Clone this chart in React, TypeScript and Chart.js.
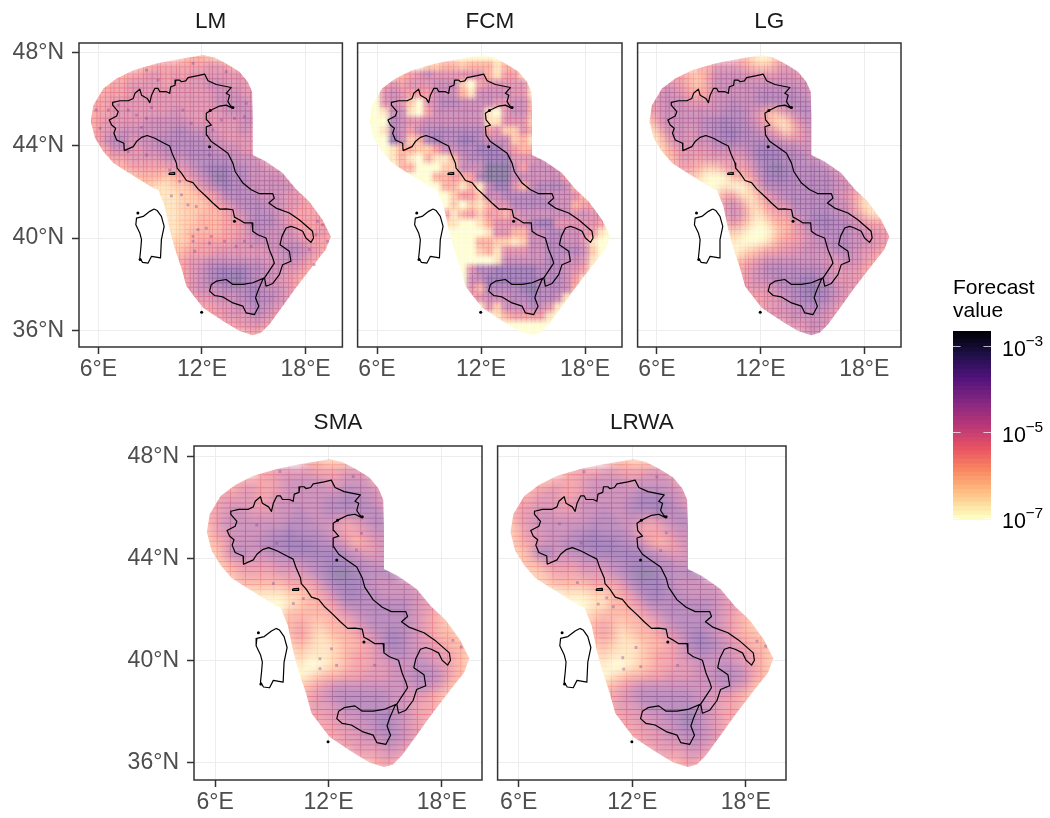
import React, { useEffect, useRef } from "react";
import { Chart, registerables } from "chart.js";

Chart.register(...registerables);

// ---------- data ----------
const xTickValues = [6, 12, 18];
const yTickValues = [36, 40, 44, 48];
const cellLons = [5.5, 6, 6.5, 7, 7.5, 8, 8.5, 9, 9.5, 10, 10.5, 11, 11.5, 12, 12.5, 13, 13.5, 14, 14.5, 15, 15.5, 16, 16.5, 17, 17.5, 18, 18.5, 19, 19.5];
const cellLats = [47.8, 47.4, 47, 46.6, 46.2, 45.8, 45.4, 45, 44.6, 44.2, 43.8, 43.4, 43, 42.6, 42.2, 41.8, 41.4, 41, 40.6, 40.2, 39.8, 39.4, 39, 38.6, 38.2, 37.8, 37.4, 37, 36.6, 36.2, 35.8];
// each character is an order-of-magnitude class: log10(value) = -7 + 0.4 * digit
const lmRows = [
  "...........23321",
  "......334444445543",
  "...3344554545555555",
  ".3344555545555665554",
  ".3444555555555566655",
  "34455555555555566665",
  "34455555556555556666",
  "34555556666655555566",
  "34556666667766655565",
  "34677566777777665555",
  ".3466556677777766655",
  "..3445555666777776665",
  "...33444445567888776655",
  ".....2333234567987766665",
  "......2211223567877666665",
  "........111223457777666554",
  "........1112223456777665544",
  "........11122333456777654444",
  ".........11223334457776544444",
  ".........11233334456766654454",
  ".........12234444556666665443",
  ".........12344455555566776543",
  "..........345566666665666543",
  "..........34567888877665543",
  "..........3456788987665543",
  "...........45666777876654",
  "...........4455666787765",
  "............444556677655",
  "..............445556654",
  "................445554",
  "..................343",
];
const fcmRows = [
  "...........00000",
  "......022332333133",
  "...0345655555531441",
  ".0454555666204555551",
  ".0565444666316666551",
  "00565205677666655663",
  "00166104666666105663",
  "00076556666666115552",
  "00176467777777452253",
  "00086237877887666231",
  ".0013322466778886433",
  "..0131031136778885556",
  "...03300022666999646665",
  ".....0003343479996666664",
  "......0003313168853677763",
  "........002442667777766653",
  "........0020213557777766344",
  "........04134244356666665655",
  ".........11001355557885555540",
  ".........00000155336677665410",
  ".........00003322126677665100",
  ".........00002315556677776200",
  "..........000001666667766510",
  "..........00577888887776540",
  "..........0066888888777641",
  "...........05377778977763",
  "...........0456667787761",
  "............015266676510",
  "..............013444410",
  "................000000",
  "..................000",
];
const lgRows = [
  "...........31002",
  "......435554322455",
  "...4432466665555655",
  ".4554324666666666665",
  ".5665434666667777766",
  "45666555667667777776",
  "35666666677765335677",
  "14666667787765311466",
  "02566567788776541356",
  "01366566788777765556",
  ".1245555666678887766",
  "..2355455555688877766",
  "...34432245457898777765",
  ".....3100033468887777765",
  "......1001002577777777665",
  "........144113567777776542",
  "........2564124557777766411",
  "........25652134467787765311",
  ".........35310133467887765443",
  ".........12100023456777766554",
  ".........01000134456677766554",
  ".........00123445566667765543",
  "..........234566666665566543",
  "..........34567777777655543",
  "..........3456677788765554",
  "...........45556778987655",
  "...........3445567888765",
  "............445566777654",
  "..............555666654",
  "................555665",
  "..................565",
];
const smaRows = [
  "...........33222",
  "......445555444554",
  "...3444456666556664",
  ".3445544566666677664",
  ".4555545666667787765",
  "34566555667667777776",
  "34666666677766545677",
  "24566667787776544566",
  "23466677888877653456",
  "22477667788888876556",
  ".2345555666778887766",
  "..2344445556789987777",
  "...23333344457888766665",
  ".....1111223457887766665",
  "......0001233457777777655",
  "........133333456777776543",
  "........2343233456777765432",
  "........23431233456787654332",
  ".........23211233457876554332",
  ".........12111234456776655432",
  ".........01001234455666765432",
  ".........00123344555667776432",
  "..........234566666666676532",
  "..........34567777776655432",
  "..........3455677777665443",
  "...........44556677876544",
  "...........3445566787654",
  "............344556677654",
  "..............445556654",
  "................444554",
  "..................343",
];
const lrwaRows = [
  "...........23222",
  "......344455444554",
  "...3344456666566664",
  ".3345544566666777664",
  ".4455545666667888765",
  "34556555667667778776",
  "24566666677766545677",
  "23556667787776444566",
  "23456677888877643456",
  "22378667788888876556",
  ".2335555666778887766",
  "..2234445556789987777",
  "...22333344457888766665",
  ".....0111223457887766665",
  "......0001133457777777655",
  "........123333456777776543",
  "........2343233456777765432",
  "........13431233456787654332",
  ".........23211233457887654332",
  ".........12111234456776655432",
  ".........01001234455666765432",
  ".........00123344555667776432",
  "..........234566666666676532",
  "..........34567777776655432",
  "..........3455677777765443",
  "...........44556677976544",
  "...........3445566787654",
  "............344556677654",
  "..............445556654",
  "................444554",
  "..................343",
];
// isolated high cells visible as small dots, [lon, lat]
const lmSpecks = [
  [10.23, 41.82], [10.81, 41.86], [11.19, 41.43], [11.67, 41.36], [12.25, 40.43], [11.77, 40.36], [11.48, 40.07], [11.48, 39.86], [12.54, 40.07],
  [12.44, 39.78], [11.58, 39.43], [14.46, 39.86], [13.98, 39.64], [13.31, 39.86], [14.85, 39.64], [18.21, 39.5], [18.5, 38.85], [18.98, 40.57],
  [19.27, 39.86], [18.69, 40.72], [18.6, 40.14], [8.21, 45.3], [7.15, 45.73], [9.08, 45.63], [9.46, 46.81], [11.48, 47.53], [13.4, 47.17],
  [8.79, 47.24], [13.88, 45.16], [13.12, 45.09], [14.56, 45.81], [7.73, 45.52], [6.58, 45.52], [5.87, 45.52], [6.1, 44.73], [8.5, 44.77],
  [8.79, 45.16], [10.71, 42.44], [12.44, 43.58], [10.13, 42.94], [8.79, 43.58], [7.73, 43.73], [11.38, 44.95], [10.9, 45.52], [12.63, 44.66], [14.46, 45.23],
];
const smaSpecks = [
  [9.08, 43.01], [10.67, 42.42], [10.14, 42.23], [11.55, 40.06], [11.55, 39.67], [12.43, 39.8], [12.16, 40.45], [14.45, 39.8],
  [13.75, 44.98], [13.48, 44.33], [19.03, 40.52], [18.59, 40.78], [8.2, 45.31], [9.26, 44.59], [13.31, 47.21], [9.43, 47.41],
];
const lrwaSpecks = [
  [9.1, 43.05], [10.65, 42.45], [10.2, 42.2], [11.5, 40.1], [11.55, 39.65], [12.45, 39.75], [12.2, 40.5], [14.4, 39.8], [13.8, 45],
  [13.5, 44.3], [19.05, 40.55], [18.6, 40.75], [8.15, 45.35], [9.3, 44.6], [13.3, 47.2], [9.45, 47.4], [11.0, 42.1],
];
// forecast domain outline, [lon, lat]
const domainOutline = [
  [12.06, 47.89], [12.73, 47.78], [13.4, 47.53], [14.17, 47.17], [14.65, 46.74], [14.9, 46.31], [14.94, 45.23], [14.94, 43.58],
  [15.71, 43.3], [16.67, 42.8], [17.44, 42.11], [18.21, 41.58], [18.98, 40.79], [19.46, 40.07], [19.17, 39.5], [18.4, 38.78],
  [17.44, 37.85], [16.67, 37.06], [15.9, 36.27], [15.42, 35.91], [14.94, 35.81], [14.17, 35.99], [13.21, 36.42], [12.06, 36.99],
  [11.1, 37.92], [10.81, 38.71], [10.42, 39.57], [10.13, 40.36], [9.85, 41.36], [9.46, 42.08], [9.27, 42.11], [8.4, 42.51],
  [7.63, 42.87], [6.87, 43.23], [6.29, 43.73], [5.81, 44.3], [5.56, 45.02], [5.71, 45.73], [6.29, 46.45], [7.06, 46.88],
  [8.02, 47.24], [9.37, 47.53], [10.52, 47.7], [11.67, 47.84], [12.06, 47.89],
];
const mainland = [
  [7.5, 43.77], [8.02, 43.94], [8.21, 44.16], [8.5, 44.34], [8.83, 44.42], [9.27, 44.3], [9.75, 44.11], [10.13, 43.97], [10.27, 43.66],
  [10.52, 43.23], [10.56, 43.01], [10.81, 42.8], [11.1, 42.48], [11.48, 42.39], [11.77, 42.12], [12.25, 41.79], [12.63, 41.51], [13.02, 41.25],
  [13.4, 41.26], [13.79, 41.22], [13.88, 40.9], [14.17, 40.79], [14.46, 40.65], [14.9, 40.65], [14.94, 40.29], [15.23, 40.14], [15.71, 40],
  [15.9, 39.5], [16.1, 39.14], [16.19, 38.92], [15.94, 38.64], [15.62, 38.28], [15.71, 37.92], [16.1, 38.04], [16.48, 38.42], [16.67, 38.85],
  [17.15, 39], [17.06, 39.43], [16.52, 39.71], [16.63, 40.07], [16.87, 40.43], [17.15, 40.5], [17.44, 40.43], [17.83, 40.29], [18.02, 40],
  [18.31, 39.81], [18.46, 40], [18.4, 40.29], [17.63, 40.79], [17.06, 41.08], [16.29, 41.29], [15.87, 41.51], [16.19, 41.72], [16.1, 41.91],
  [15.33, 41.91], [14.85, 42.08], [14.37, 42.37], [13.92, 42.87], [13.79, 43.23], [13.5, 43.66], [13.02, 43.91], [12.54, 44.16], [12.29, 44.44],
  [12.25, 44.8], [12.54, 44.87], [12.29, 45.09], [12.25, 45.38], [12.54, 45.52], [13.02, 45.69], [13.4, 45.73], [13.79, 45.59], [13.63, 45.73],
  [13.5, 45.88], [13.6, 46.16], [13.4, 46.24], [13.69, 46.49], [12.83, 46.62], [12.35, 46.78], [12.15, 47.07], [11.77, 47], [11.19, 46.92],
  [11.06, 46.78], [10.81, 46.74], [10.71, 46.81], [10.48, 46.81], [10.44, 46.59], [10.19, 46.52], [10.13, 46.24], [9.94, 46.31], [9.56, 46.31],
  [9.46, 46.45], [9.27, 46.45], [9.08, 46.16], [8.98, 45.84], [8.83, 46.02], [8.5, 46.16], [8.4, 46.42], [8.12, 46.24], [8.02, 46.02],
  [7.73, 45.92], [7.25, 45.92], [6.83, 45.85], [6.83, 45.73], [7.15, 45.45], [7.06, 45.26], [6.63, 45.09], [6.77, 44.87], [7, 44.73],
  [6.9, 44.52], [7.06, 44.23], [7.48, 44.09], [7.5, 43.77],
];
const sicily = [
  [15.62, 38.28], [14.94, 38.07], [14.37, 38], [13.79, 38], [13.4, 38.21], [12.83, 38.14], [12.54, 38], [12.44, 37.71], [12.73, 37.52],
  [13.21, 37.46], [13.79, 37.2], [14.37, 37.06], [14.56, 36.77], [15.04, 36.7], [15.29, 37.06], [15.1, 37.42], [15.23, 37.71], [15.52, 38.21], [15.62, 38.28],
];
const sardinia = [
  [9.23, 41.25], [8.98, 41.15], [8.6, 40.93], [8.21, 40.86], [8.17, 40.57], [8.4, 40.22], [8.5, 39.93], [8.46, 39.57], [8.4, 39.14],
  [8.56, 38.95], [8.88, 38.92], [9.08, 39.21], [9.6, 39.14], [9.65, 39.93], [9.81, 40.5], [9.65, 40.93], [9.4, 41.19], [9.23, 41.25],
];
const elba = [[10.1, 42.8], [10.42, 42.82], [10.42, 42.74], [10.1, 42.74], [10.1, 42.8]];
const islets = [[8.29, 41.08], [8.42, 39.07], [11.98, 36.8], [13.88, 40.72], [12.44, 43.94], [12.48, 45.5], [13.79, 45.63]];
const legendLevels = [-2.7, -2.8, -2.9, -3, -3.1, -3.2, -3.3, -3.4, -3.5, -3.6, -3.7, -3.8, -3.9, -4, -4.1, -4.2, -4.3, -4.4, -4.5, -4.6, -4.7, -4.8, -4.9, -5, -5.1, -5.2, -5.3, -5.4, -5.5, -5.6, -5.7, -5.8, -5.9, -6, -6.1, -6.2, -6.3, -6.4, -6.5, -6.6, -6.7, -6.8, -6.9, -7];
const legendTickLevels = [-3, -5, -7];
const legendExponents = ["\u22123", "\u22125", "\u22127"];

// ---------- styling ----------
const FONT = '"Liberation Sans", Arial, Helvetica, sans-serif';
const MAGMA = [[252, 253, 191], [254, 194, 135], [251, 136, 97], [230, 81, 100], [182, 54, 121], [130, 38, 129], [81, 18, 124], [29, 17, 71], [0, 0, 4]];
const SCALE_MIN = -7;
const SCALE_MAX = -2.68;

function magma(logValue: number): number[] {
  const t = Math.max(0, Math.min(1, (logValue - SCALE_MIN) / (SCALE_MAX - SCALE_MIN))) * (MAGMA.length - 1);
  const i = Math.min(MAGMA.length - 2, Math.floor(t));
  const f = t - i;
  return MAGMA[i].map((c, k) => c + (MAGMA[i + 1][k] - c) * f);
}
const rgb = (c: number[]) => `rgb(${c.map((v) => Math.round(v)).join(",")})`;
const tileColour = (logValue: number) => rgb(magma(logValue).map((c) => c * 0.5 + 255 * 0.5));

const pts = (pairs: number[][]) => pairs.map(([x, y]) => ({ x, y }));

function cellsFromRows(rows: string[]) {
  const out: { x: number; y: number; v: number }[] = [];
  rows.forEach((row, j) => {
    for (let i = 0; i < row.length; i++) {
      if (row[i] === ".") continue;
      out.push({ x: cellLons[i], y: cellLats[j], v: Math.pow(10, -7 + 0.4 * Number(row[i])) });
    }
  });
  return out;
}

function layerCopy(src: HTMLCanvasElement, filter?: string) {
  const c = document.createElement("canvas");
  c.width = src.width;
  c.height = src.height;
  const g = c.getContext("2d")!;
  if (filter) g.filter = filter;
  g.drawImage(src, 0, 0);
  return c;
}

function overlapBands(scale: any, from: number, to: number, s: number) {
  const out: number[] = [];
  const n = Math.round((to - from) * 10);
  const full = Math.ceil(Math.abs(scale.getPixelForValue(from + 0.1) - scale.getPixelForValue(from)) * s);
  for (let i = 0; i < n; i++) {
    const a = Math.round(scale.getPixelForValue(from + i * 0.1) * s);
    const b = Math.round(scale.getPixelForValue(from + (i + 1) * 0.1) * s);
    if (Math.abs(b - a) < full) out.push(b / s);
  }
  return out;
}

const softCells = {
  id: "softCells",
  beforeDatasetDraw(chart: any, args: any) {
    if (args.index !== 0) return;
    chart.$base = layerCopy(chart.canvas);
    chart.ctx.clearRect(0, 0, chart.canvas.width, chart.canvas.height);
  },
  afterDatasetDraw(chart: any, args: any, opts: any) {
    if (args.index !== 0) return;
    const { ctx, canvas, chartArea: a, scales } = chart;
    const soft = layerCopy(canvas, `blur(${opts.blur}px)`);
    ctx.clearRect(0, 0, canvas.width, canvas.height);
    ctx.drawImage(chart.$base, 0, 0);
    ctx.save();
    ctx.beginPath();
    domainOutline.forEach(([lon, lat], i) => {
      const x = scales.x.getPixelForValue(lon);
      const y = scales.y.getPixelForValue(lat);
      if (i) ctx.lineTo(x, y);
      else ctx.moveTo(x, y);
    });
    ctx.closePath();
    ctx.clip();
    ctx.drawImage(soft, 0, 0);
    ctx.beginPath();
    overlapBands(scales.x, 5, 20, opts.sx).forEach((x) => ctx.rect(x, a.top, 0.9, a.bottom - a.top));
    overlapBands(scales.y, 35.5, 48, opts.sy).forEach((y) => ctx.rect(a.left, y, a.right - a.left, 0.9));
    ctx.clip();
    ctx.globalCompositeOperation = "multiply";
    ctx.globalAlpha = 0.7;
    ctx.drawImage(soft, 0, 0);
    ctx.restore();
  },
};

const panelFrame = {
  id: "panelFrame",
  afterDraw(chart: any) {
    const { ctx, chartArea: a } = chart;
    ctx.save();
    ctx.strokeStyle = "#333333";
    ctx.lineWidth = 1.5;
    ctx.strokeRect(a.left, a.top, a.right - a.left, a.bottom - a.top);
    ctx.restore();
  },
};

const legendTicks = {
  id: "legendTicks",
  afterDatasetsDraw(chart: any) {
    const { ctx, chartArea: a, scales } = chart;
    ctx.save();
    ctx.strokeStyle = "rgba(255,255,255,0.7)";
    ctx.lineWidth = 1;
    legendTickLevels.forEach((l, i) => {
      const tick = scales.y.getPixelForValue(legendLevels.indexOf(l));
      const y = Math.round(tick) + 0.5;
      ctx.beginPath();
      ctx.moveTo(a.left, y);
      ctx.lineTo(a.left + 7.6, y);
      ctx.moveTo(a.right - 7.6, y);
      ctx.lineTo(a.right, y);
      ctx.stroke();
      ctx.fillStyle = "#000000";
      ctx.textAlign = "left";
      ctx.textBaseline = "alphabetic";
      ctx.font = `21.5px ${FONT}`;
      ctx.fillText("10", a.right + 11, tick + 10.5);
      ctx.font = `15.5px ${FONT}`;
      ctx.fillText(legendExponents[i], a.right + 34.5, tick + 0.5);
    });
    ctx.restore();
  },
};

const panels = [
  { title: "LM", rows: lmRows, specks: lmSpecks, left: 0, top: 0, w: 350, h: 395, L: 79, R: 343, T: 43, B: 347, labels: true, blur: 3.5, sx: 1.523, sy: 1.52, tt: 8.5 },
  { title: "FCM", rows: fcmRows, specks: [], left: 350, top: 0, w: 280, h: 395, L: 7, R: 272, T: 43, B: 347, labels: false, blur: 2, sx: 1.523, sy: 1.52, tt: 8.5 },
  { title: "LG", rows: lgRows, specks: [], left: 630, top: 0, w: 280, h: 395, L: 6, R: 271, T: 43, B: 347, labels: false, blur: 4.5, sx: 1.523, sy: 1.52, tt: 8.5 },
  { title: "SMA", rows: smaRows, specks: smaSpecks, left: 120, top: 400, w: 370, h: 418, L: 74, R: 362, T: 46, B: 380, labels: true, blur: 4.5, sx: 1.519, sy: 1.385, tt: 9.5 },
  { title: "LRWA", rows: lrwaRows, specks: lrwaSpecks, left: 490, top: 400, w: 310, h: 418, L: 7, R: 296, T: 46, B: 380, labels: false, blur: 4.5, sx: 1.519, sy: 1.385, tt: 9.5 },
];

function panelConfig(p: (typeof panels)[number]): any {
  const cells = cellsFromRows(p.rows);
  const outline = (pairs: number[][]) => ({
    type: "scatter",
    data: pts(pairs),
    showLine: true,
    borderColor: "#000000",
    borderWidth: 1.2,
    pointRadius: 0,
    tension: 0,
    borderJoinStyle: "round",
    order: 1,
  });
  return {
    type: "scatter",
    data: {
      datasets: [
        {
          label: p.title,
          data: cells,
          pointStyle: "rect",
          pointRadius: 7.6,
          pointBorderWidth: 0,
          pointBackgroundColor: cells.map((c) => tileColour(Math.log10(c.v))),
          order: 5,
        },
        {
          data: pts(p.specks),
          pointStyle: "rect",
          pointRadius: 2,
          pointBorderWidth: 0,
          pointBackgroundColor: "rgba(130,70,160,0.4)",
          order: 3,
        },
        outline(mainland),
        outline(sicily),
        outline(sardinia),
        outline(elba),
        { data: pts(islets), pointRadius: 1.5, pointBorderWidth: 0, pointBackgroundColor: "#000000", order: 1 },
      ],
    },
    options: {
      responsive: false,
      animation: false,
      devicePixelRatio: 1,
      events: [],
      layout: { padding: { left: 0, right: p.w - p.R, top: 0, bottom: 0 } },
      plugins: {
        legend: { display: false },
        tooltip: { enabled: false },
        title: {
          display: true,
          text: p.title,
          fullSize: false,
          color: "#1A1A1A",
          font: { family: FONT, size: 22.5, weight: "normal", lineHeight: 1.2 },
          padding: { top: p.tt, bottom: p.T - p.tt - 27 },
        },
        softCells: { blur: p.blur, sx: p.sx, sy: p.sy },
      },
      scales: {
        x: {
          type: "linear",
          min: 4.88,
          max: 20.13,
          afterBuildTicks: (s: any) => {
            s.ticks = xTickValues.map((value) => ({ value }));
          },
          afterFit: (s: any) => {
            s.height = p.h - p.B;
          },
          grid: { color: "#EDEDED", lineWidth: 1, tickColor: "#333333", tickWidth: 1.5, tickLength: 7 },
          border: { display: false },
          ticks: {
            autoSkip: false,
            maxRotation: 0,
            color: "#4D4D4D",
            padding: 2,
            font: { family: FONT, size: 23 },
            callback: (v: number) => `${v}°E`,
          },
        },
        y: {
          type: "linear",
          min: 35.3,
          max: 48.41,
          afterBuildTicks: (s: any) => {
            s.ticks = yTickValues.map((value) => ({ value }));
          },
          afterFit: (s: any) => {
            s.width = p.L;
          },
          grid: { color: "#EDEDED", lineWidth: 1, tickColor: "#333333", tickWidth: 1.5, tickLength: 7, drawTicks: p.labels },
          border: { display: false },
          ticks: {
            display: p.labels,
            autoSkip: false,
            color: "#4D4D4D",
            padding: 8,
            font: { family: FONT, size: 23 },
            callback: (v: number) => `${v}°N`,
          },
        },
      },
    },
    plugins: [softCells, panelFrame],
  };
}

function legendConfig(): any {
  return {
    type: "bar",
    data: {
      labels: legendLevels.map(String),
      datasets: [
        {
          data: legendLevels.map(() => 1),
          backgroundColor: legendLevels.map((l) => rgb(magma(l))),
          borderWidth: 0,
          inflateAmount: 1,
          barPercentage: 1,
          categoryPercentage: 1,
        },
      ],
    },
    options: {
      indexAxis: "y",
      responsive: false,
      animation: false,
      devicePixelRatio: 1,
      events: [],
      layout: { padding: { left: 0, right: 0, top: 0, bottom: 20 } },
      plugins: {
        legend: { display: false },
        tooltip: { enabled: false },
        title: {
          display: true,
          text: ["Forecast", "value"],
          align: "start",
          color: "#000000",
          font: { family: FONT, size: 21, weight: "normal", lineHeight: 1.08 },
          padding: { top: 7, bottom: 8.6 },
        },
      },
      scales: {
        x: { display: false, min: 0, max: 1 },
        y: {
          position: "right",
          afterFit: (s: any) => {
            s.width = 59;
          },
          grid: { display: false },
          border: { display: false },
          ticks: { display: false },
        },
      },
    },
    plugins: [legendTicks],
  };
}

export default function App() {
  const refs = useRef<(HTMLCanvasElement | null)[]>([]);
  useEffect(() => {
    const charts = panels.map((p, i) => new Chart(refs.current[i]!, panelConfig(p)));
    charts.push(new Chart(refs.current[panels.length]!, legendConfig()));
    return () => charts.forEach((c) => c.destroy());
  }, []);
  return (
    <div style={{ position: "absolute", left: 0, top: 0, width: 1050, height: 818, background: "#fff", overflow: "hidden" }}>
      {panels.map((p, i) => (
        <canvas
          key={p.title}
          ref={(el) => {
            refs.current[i] = el;
          }}
          width={p.w}
          height={p.h}
          style={{ position: "absolute", left: p.left, top: p.top, width: p.w, height: p.h }}
        />
      ))}
      <canvas
        ref={(el) => {
          refs.current[panels.length] = el;
        }}
        width={97}
        height={270}
        style={{ position: "absolute", left: 953, top: 270, width: 97, height: 270 }}
      />
    </div>
  );
}
